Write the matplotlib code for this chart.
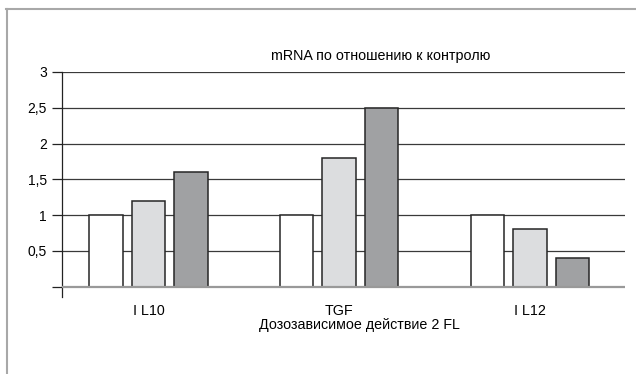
import numpy as np
import matplotlib.pyplot as plt
from matplotlib.lines import Line2D

plt.rcParams['font.family'] = ['Liberation Sans', 'DejaVu Sans']

groups = ['I L10', 'TGF', 'I L12']
dose_low = [1.0, 1.0, 1.0]
dose_mid = [1.2, 1.8, 0.8]
dose_high = [1.6, 2.5, 0.4]
yticks = [0, 0.5, 1, 1.5, 2, 2.5, 3]
ytick_labels = ['', '0,5', '1', '1,5', '2', '2,5', '3']

fig = plt.figure(figsize=(6.36, 3.74), dpi=100)
ax = fig.add_axes([0.0975, 0.2067, 0.885, 0.6008])

x = np.arange(len(groups))
w = 0.175
step = 0.223
edge = '#262626'
ax.bar(x - step, dose_low, w, color='white', edgecolor=edge, linewidth=1.1, zorder=3)
ax.bar(x, dose_mid, w, color='#dcdddf', edgecolor=edge, linewidth=1.1, zorder=3)
ax.bar(x + step, dose_high, w, color='#a0a1a3', edgecolor=edge, linewidth=1.1, zorder=3)

ax.set_xlim(-0.453, 2.498)
ax.set_ylim(-0.14, 3)
ax.set_yticks(yticks)
ax.set_yticklabels(ytick_labels, fontsize=10)
ax.tick_params(axis='y', length=7, width=0.9, color='#222222', pad=4)
ax.set_xticks(x)
ax.set_xticklabels(groups, fontsize=10.3)
ax.tick_params(axis='x', length=0, pad=5)

for v in yticks[1:]:
    ax.axhline(v, color='#3a3a3a', linewidth=0.9, zorder=1)
ax.axhline(0, color='#999999', linewidth=1.6, zorder=4)

for s in ['top', 'right', 'bottom']:
    ax.spines[s].set_visible(False)
ax.spines['left'].set_color('#222222')
ax.spines['left'].set_linewidth(0.9)

ax.set_xlabel('Дозозависимое действие 2 FL', fontsize=10.3)
ax.xaxis.set_label_coords(0.529, -0.095)
fig.text(0.598, 0.85, 'mRNA по отношению к контролю', fontsize=10.3, ha='center', va='center')

# frame lines along top and left edge
fig.add_artist(Line2D([0.0095, 1.0], [0.977, 0.977], color='#a8a8a8', linewidth=1.5))
fig.add_artist(Line2D([0.0105, 0.0105], [0.0, 0.977], color='#a8a8a8', linewidth=1.5))

fig.savefig('out.png', dpi=100, facecolor='white')
